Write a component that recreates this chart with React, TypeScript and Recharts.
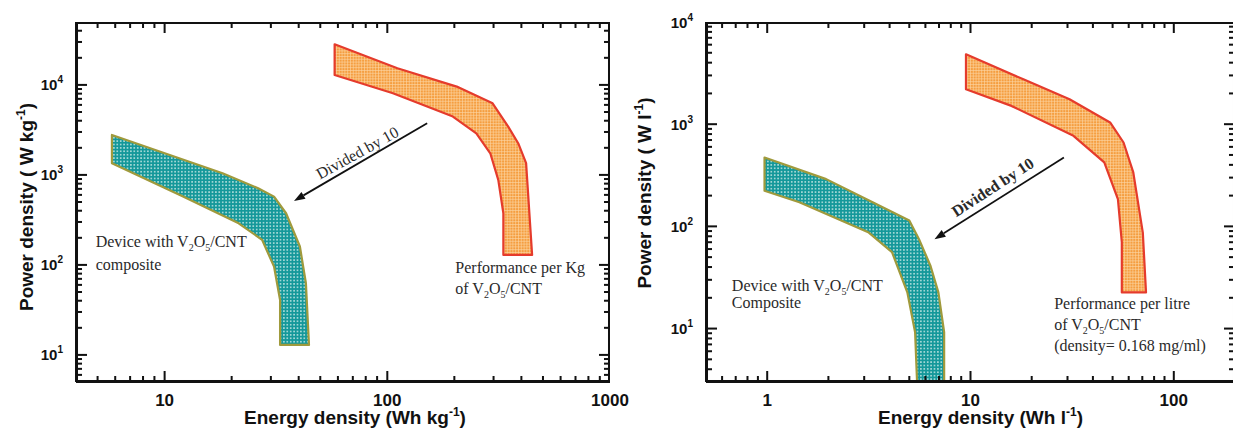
import type { ReactNode } from "react";
import { ComposedChart, Scatter, XAxis, YAxis } from "recharts";

const sans = "'Liberation Sans', Arial, Helvetica, sans-serif";
const serif = "'Liberation Serif', 'Times New Roman', Times, serif";
const ink = "#111";

// ---------- left panel: per kg ----------
const kgXDomain = [4, 1000];
const kgYDomain = [5, 50000];
const kgXTicks = [5, 6, 7, 8, 9, 10, 20, 30, 40, 50, 60, 70, 80, 90, 100, 200, 300, 400, 500, 600, 700, 800, 900, 1000];
const kgXLabels = [10, 100, 1000];
const kgYTicks = [6, 7, 8, 9, 10, 20, 30, 40, 50, 60, 70, 80, 90, 100, 200, 300, 400, 500, 600, 700, 800, 900,
  1000, 2000, 3000, 4000, 5000, 6000, 7000, 8000, 9000, 10000, 20000, 30000, 40000];
const kgYLabels = [10, 100, 1000, 10000];

// band edges as [energy, power]
const kgDeviceUpper = [[5.8, 2780], [18.2, 1045], [26.3, 711], [31, 574], [35.1, 375], [40.5, 160], [43.1, 62.5], [44.5, 12.9]];
const kgDeviceLower = [[5.8, 1350], [12.1, 574], [21.5, 290], [27.4, 190], [31, 95.7], [33, 40.8], [33, 12.9]];
const kgMaterialUpper = [[58, 28300], [111, 15300], [205, 9580], [297, 6250], [349, 3440], [387, 2250], [420, 1350], [447, 129]];
const kgMaterialLower = [[58, 12900], [106, 8070], [197, 4450], [251, 2900], [290, 1740], [315, 880], [332, 375], [332, 129]];
const kgArrow = [[151, 3750], [38.1, 514]];
const kgDeviceNote = [[4.9, 158]];
const kgMaterialNote = [[202, 81.5]];
const kgDividedNote = [[73.5, 1740]];

// ---------- right panel: per litre ----------
const lXDomain = [0.5, 200];
const lYDomain = [3, 10000];
const lXTicks = [0.6, 0.7, 0.8, 0.9, 1, 2, 3, 4, 5, 6, 7, 8, 9, 10, 20, 30, 40, 50, 60, 70, 80, 90, 100, 200];
const lXLabels = [1, 10, 100];
const lYTicks = [4, 5, 6, 7, 8, 9, 10, 20, 30, 40, 50, 60, 70, 80, 90, 100, 200, 300, 400, 500, 600, 700, 800, 900,
  1000, 2000, 3000, 4000, 5000, 6000, 7000, 8000, 9000, 10000];
const lYLabels = [10, 100, 1000, 10000];

const lDeviceUpper = [[0.97, 472], [1.95, 290], [3.3, 172], [5.0, 114], [5.58, 75], [6.36, 41], [6.95, 22.6], [7.42, 9.2], [7.42, 3]];
const lDeviceLower = [[0.97, 223], [1.44, 172], [3.16, 87], [4.11, 56], [4.89, 22.6], [5.34, 9.2], [5.46, 3]];
const lMaterialUpper = [[9.5, 4830], [18.2, 2750], [30.7, 1755], [48.6, 1040], [56.6, 662], [63.2, 337], [70.4, 87], [73, 22.6]];
const lMaterialLower = [[9.5, 2200], [15.9, 1510], [32.1, 769], [45.5, 423], [53.1, 185], [55.5, 70], [55.5, 22.6]];
const lArrow = [[28.8, 472], [6.65, 75]];
const lDeviceNote = [[0.67, 23.3]];
const lMaterialNote = [[25.8, 15.6]];
const lDividedNote = [[12.9, 240]];

const rows = (pairs: number[][]) => pairs.map(([x, y]) => ({ x, y }));
const outline = (upper: number[][], lower: number[][]) => rows([...upper, ...[...lower].reverse()]);

// reference points for the box and its inward ticks: two (just-inside) corners, then one point per
// inner x tick and one per inner y tick, all placed by the chart's own scales
const frameRefs = (xTicks: number[], yTicks: number[], xd: number[], yd: number[]) => {
  const inset = 1.0001;
  const midX = Math.sqrt(xd[0] * xd[1]);
  const midY = Math.sqrt(yd[0] * yd[1]);
  const xs = xTicks.filter((v) => v > xd[0] && v < xd[1]);
  const ys = yTicks.filter((v) => v > yd[0] && v < yd[1]);
  return {
    xs,
    ys,
    data: [
      { x: xd[0] * inset, y: yd[0] * inset },
      { x: xd[1] / inset, y: yd[1] / inset },
      ...xs.map((v) => ({ x: v, y: midY })),
      ...ys.map((v) => ({ x: midX, y: v })),
    ],
  };
};

function Pattern({ id, kind }: { id: string; kind: string }) {
  if (kind === "dots") {
    return (
      <pattern id={id} width={3.4} height={3.4} patternUnits="userSpaceOnUse">
        <rect width={3.4} height={3.4} fill="#14989a" />
        <circle cx={1.7} cy={1.7} r={0.8} fill="#dcf2ee" />
      </pattern>
    );
  }
  return (
    <pattern id={id} width={2.8} height={2.8} patternUnits="userSpaceOnUse">
      <rect width={2.8} height={2.8} fill="#f59e40" />
      <path d="M0 0.35H2.8M0.35 0V2.8" stroke="#fcd6a4" strokeWidth={0.7} />
    </pattern>
  );
}

function Band(props: any) {
  const { points, pid, kind, edge, n, xs, xMajors, ys, yMajors } = props;
  if (!points || points.length < 3) return null;
  const count = n ?? points.length;
  const band = points.slice(0, count);
  const d = band.map((p: any, i: number) => `${i ? "L" : "M"}${p.x},${p.y}`).join(" ") + " Z";
  const rest = points.slice(count);
  let box: ReactNode = null;
  if (xs && rest.length >= 2 && Number.isFinite(rest[0].x) && Number.isFinite(rest[1].y)) {
    const left = rest[0].x;
    const bottom = rest[0].y;
    const right = rest[1].x;
    const top = rest[1].y;
    const xp = rest.slice(2, 2 + xs.length);
    const yp = rest.slice(2 + xs.length, 2 + xs.length + ys.length);
    box = (
      <g fill={ink}>
        <rect x={left} y={top} width={right - left} height={2} />
        <rect x={left} y={bottom - 2} width={right - left} height={2} />
        <rect x={left} y={top} width={2} height={bottom - top} />
        <rect x={right - 2} y={top} width={2} height={bottom - top} />
        {xp.map((p: any, i: number) => {
          const len = xMajors.includes(xs[i]) ? 11 : 6;
          return (
            <g key={`x${i}`}>
              <rect x={p.x - 1} y={bottom - len} width={2} height={len} />
              <rect x={p.x - 1} y={top} width={2} height={len} />
            </g>
          );
        })}
        {yp.map((p: any, i: number) => {
          const len = yMajors.includes(ys[i]) ? 11 : 6;
          return (
            <g key={`y${i}`}>
              <rect x={left} y={p.y - 1} width={len} height={2} />
              <rect x={right - len} y={p.y - 1} width={len} height={2} />
            </g>
          );
        })}
      </g>
    );
  }
  return (
    <g>
      <defs>
        <Pattern id={pid} kind={kind} />
      </defs>
      <path d={d} fill={`url(#${pid})`} stroke={edge} strokeWidth={2.2} strokeLinejoin="round" />
      {box}
    </g>
  );
}

function Arrow(props: any) {
  const { points } = props;
  if (!points || points.length < 2) return null;
  const [a, b] = points;
  const ang = Math.atan2(b.y - a.y, b.x - a.x);
  const bx = b.x - 11 * Math.cos(ang);
  const by = b.y - 11 * Math.sin(ang);
  const nx = -Math.sin(ang) * 4;
  const ny = Math.cos(ang) * 4;
  return (
    <g>
      <line x1={a.x} y1={a.y} x2={bx} y2={by} stroke={ink} strokeWidth={1.8} />
      <polygon points={`${b.x},${b.y} ${bx + nx},${by + ny} ${bx - nx},${by - ny}`} fill={ink} />
    </g>
  );
}

const V2O5 = () => (
  <>
    V<tspan dy={4} fontSize={10}>2</tspan>
    <tspan dy={-4}>O</tspan>
    <tspan dy={4} fontSize={10}>5</tspan>
    <tspan dy={-4}>/CNT</tspan>
  </>
);

const noteLines = (lines: ReactNode[], gap: number) => (p: any) => (
  <g>
    {lines.map((l, i) => (
      <text key={i} x={p.cx} y={p.cy + i * gap} fontFamily={serif} fontSize={16} fill="#2a2a2a">
        {l}
      </text>
    ))}
  </g>
);

const dividedText = (angle: number, bold: boolean) => (p: any) => (
  <text x={p.cx} y={p.cy} dy={5} textAnchor="middle" transform={`rotate(${angle} ${p.cx} ${p.cy})`}
    fontFamily={serif} fontSize={16} fontWeight={bold ? "bold" : "normal"} fill="#2a2a2a">
    Divided by 10
  </text>
);

const empty = () => <g />;

function xLabel(labels: number[]) {
  return (props: any) => {
    const { x, y, payload } = props;
    if (!labels.includes(payload.value)) return <g />;
    return (
      <text x={x} y={y + 24} textAnchor="middle" fontFamily={sans} fontWeight="bold" fontSize={17} fill={ink}>
        {payload.value}
      </text>
    );
  };
}

function yLabel(labels: number[]) {
  return (props: any) => {
    const { x, y, payload } = props;
    if (!labels.includes(payload.value)) return <g />;
    return (
      <text x={x - 13} y={y + 5.5} textAnchor="end" fontFamily={sans} fontWeight="bold" fontSize={15} fill={ink}>
        10<tspan dy={-7} fontSize={10}>{Math.round(Math.log10(payload.value))}</tspan>
      </text>
    );
  };
}

const yTitle = (unit: string, dx: number, dy: number) => (props: any) => {
  const vb = props.viewBox || { x: 0, y: 22, width: 0, height: 360 };
  const x = vb.x + dx;
  const y = vb.y + vb.height / 2 + dy;
  return (
    <text x={x} y={y} transform={`rotate(-90 ${x} ${y})`} textAnchor="middle" fontFamily={sans} fontWeight="bold"
      fontSize={19} fill={ink}>
      Power density ( W {unit}<tspan dy={-8} fontSize={12}>-1</tspan><tspan dy={8}>)</tspan>
    </text>
  );
};

const xTitle = (unit: string, dx: number) => (props: any) => {
  const vb = props.viewBox || { x: 0, y: 382, width: 0, height: 48 };
  return (
    <text x={vb.x + vb.width / 2 + dx} y={vb.y + 42} textAnchor="middle" fontFamily={sans} fontWeight="bold"
      fontSize={19} fill={ink}>
      Energy density (Wh {unit}<tspan dy={-8} fontSize={12}>-1</tspan><tspan dy={8}>)</tspan>
    </text>
  );
};

const axisLine = { stroke: ink, strokeWidth: 2 };
const common = { type: "number" as const, scale: "log" as const, allowDataOverflow: true, interval: 0 as const,
  tickLine: false, tickSize: 0, tickMargin: 0, axisLine };
const ids = { xAxisId: "b", yAxisId: "l", isAnimationActive: false };

function panel(c: any) {
  const refs = frameRefs(c.xTicks, c.yTicks, c.xDomain, c.yDomain);
  const materialAndFrame = [...c.material, ...refs.data];
  return (
    <div style={{ position: "absolute", left: c.left, top: 0 }}>
      <ComposedChart width={c.width} height={430} margin={{ top: 22, right: c.marginRight, bottom: 0, left: 0 }}>
        <XAxis xAxisId="b" dataKey="x" domain={c.xDomain} ticks={c.xTicks} tick={xLabel(c.xLabels)} height={48}
          label={xTitle(c.unit, c.xTitleDx)} {...common} />
        <YAxis yAxisId="l" dataKey="y" domain={c.yDomain} ticks={c.yTicks} tick={yLabel(c.yLabels)} width={c.yWidth}
          label={yTitle(c.unit, c.yTitleDx, c.yTitleDy)} {...common} />
        <Scatter {...ids} data={c.device} shape={empty}
          line={<Band pid={`dots-${c.unit}`} kind="dots" edge="#a09a3c" />} />
        <Scatter {...ids} data={materialAndFrame} shape={empty}
          line={<Band pid={`grid-${c.unit}`} kind="grid" edge="#e53b2c" n={c.material.length}
            xs={refs.xs} xMajors={c.xLabels} ys={refs.ys} yMajors={c.yLabels} />} />
        <Scatter {...ids} data={c.arrow} shape={empty} line={<Arrow />} />
        <Scatter {...ids} data={c.deviceNote} shape={noteLines(c.deviceLines, c.deviceGap)} />
        <Scatter {...ids} data={c.materialNote} shape={noteLines(c.materialLines, c.materialGap)} />
        <Scatter {...ids} data={c.dividedNote} shape={dividedText(c.angle, c.bold)} />
      </ComposedChart>
    </div>
  );
}

const kgPanel = {
  left: 0, width: 640, marginRight: 30, yWidth: 76,
  xDomain: kgXDomain, yDomain: kgYDomain,
  xTicks: kgXTicks, xLabels: kgXLabels, yTicks: kgYTicks, yLabels: kgYLabels,
  device: outline(kgDeviceUpper, kgDeviceLower), material: outline(kgMaterialUpper, kgMaterialLower),
  arrow: rows(kgArrow), deviceNote: rows(kgDeviceNote), materialNote: rows(kgMaterialNote),
  dividedNote: rows(kgDividedNote), unit: "kg", yTitleDx: 33, yTitleDy: 5, xTitleDx: 12,
  deviceLines: [<>Device with <V2O5 /></>, "composite"], deviceGap: 23,
  materialLines: ["Performance per Kg", <>of <V2O5 /></>], materialGap: 21,
  angle: -29, bold: false,
};

const lPanel = {
  left: 620, width: 620, marginRight: 5, yWidth: 86,
  xDomain: lXDomain, yDomain: lYDomain,
  xTicks: lXTicks, xLabels: lXLabels, yTicks: lYTicks, yLabels: lYLabels,
  device: outline(lDeviceUpper, lDeviceLower), material: outline(lMaterialUpper, lMaterialLower),
  arrow: rows(lArrow), deviceNote: rows(lDeviceNote), materialNote: rows(lMaterialNote),
  dividedNote: rows(lDividedNote), unit: "l", yTitleDx: 31, yTitleDy: -9, xTitleDx: 10,
  deviceLines: [<>Device with <V2O5 /></>, "Composite"], deviceGap: 17,
  materialLines: ["Performance per litre", <>of <V2O5 /></>, "(density= 0.168 mg/ml)"], materialGap: 21,
  angle: -33, bold: true,
};

export default function App() {
  return (
    <div style={{ position: "relative", width: 1233, height: 430, overflow: "hidden", background: "#fff" }}>
      <style>{"body{margin:0}"}</style>
      {panel(kgPanel)}
      {panel(lPanel)}
    </div>
  );
}
